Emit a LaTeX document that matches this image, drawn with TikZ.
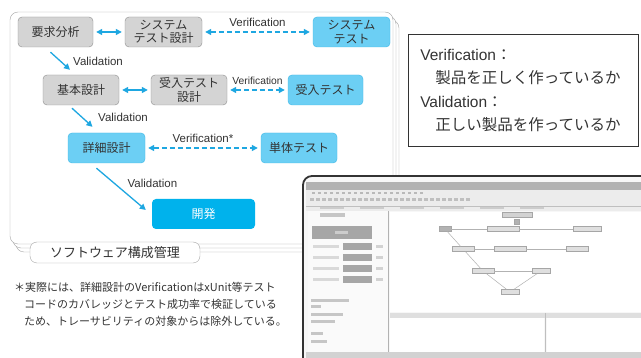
\documentclass[tikz,border=0pt]{standalone}
\usepackage{fontspec}
\setmainfont{Noto Sans CJK JP}
\newfontfamily\latinsf{Liberation Sans}
\usetikzlibrary{arrows.meta,calc}

\definecolor{boxgray}{HTML}{D4D4D4}
\definecolor{edgegray}{HTML}{8E8E8E}
\definecolor{lightblue}{HTML}{6CCFF4}
\definecolor{edgeblue}{HTML}{3DB8E6}
\definecolor{devblue}{HTML}{00B2EC}
\definecolor{arrowblue}{HTML}{1EA7E1}
\definecolor{inkgray}{HTML}{333333}

\begin{document}
\begin{tikzpicture}[x=1pt,y=-1pt,
  >={Triangle[length=6pt,width=6pt]},
  every node/.style={text=inkgray},
  proc/.style={draw=edgegray,fill=boxgray,rounded corners=4pt,minimum height=30pt,
    align=center,inner sep=1pt,font=\fontsize{12}{13.5}\selectfont},
  test/.style={proc,draw=edgeblue,fill=lightblue},
  link/.style={<->,arrowblue,line width=1.3pt,shorten >=3pt,shorten <=3pt},
  verif/.style={link,dash pattern=on 5pt off 3pt},
  valid/.style={->,arrowblue,line width=1.3pt},
  tag/.style={font=\latinsf\fontsize{11.5}{12}\selectfont},
  mini/.style={draw=gray!70,fill=gray!25,minimum height=5pt,inner sep=0pt},
  ]
\useasboundingbox (0,0) rectangle (641,358);

% Configuration management frame (stacked sheets)
\foreach \d in {6,3,0}
  \draw[gray!70,fill=white,rounded corners=8pt] (10+\d,12+4/3*\d) rectangle (393+\d,244+4/3*\d);
\node[draw=gray!70,fill=white,rounded corners=7pt,minimum width=170pt,minimum height=21pt,
  font=\fontsize{13}{13}\selectfont] (scm) at (115,252.5) {ソフトウェア構成管理};

% Process boxes
\node[proc,minimum width=75pt] (req) at (55.5,32) {要求分析};
\node[proc,minimum width=77pt] (sysdes) at (163.5,32) {システム\\テスト設計};
\node[test,minimum width=77pt] (systest) at (351.5,32) {システム\\テスト};
\node[proc,minimum width=76pt] (basic) at (81,90) {基本設計};
\node[proc,minimum width=76pt] (accdes) at (189,90) {受入テスト\\設計};
\node[test,minimum width=75pt] (acctest) at (325.5,90) {受入テスト};
\node[test,minimum width=77pt] (detail) at (106.5,148) {詳細設計};
\node[test,minimum width=76pt] (unit) at (299,148) {単体テスト};
\node[proc,draw=none,fill=devblue,text=white,minimum width=103pt] (dev) at (203.5,214) {開発};

% Design <-> test design
\draw[link] (req) -- (sysdes);
\draw[link] (basic) -- (accdes);

% Verification
\draw[verif] (sysdes) -- node[above=1pt,tag]{Verification} (systest);
\draw[verif] (accdes) -- node[above=1pt,tag,font=\latinsf\fontsize{10.3}{11}\selectfont]{Verification} (acctest);
\draw[verif] (detail) -- node[above=1pt,tag]{Verification*} (unit);

% Validation
\draw[valid] ($(req.south)+(-5,5)$) -- node[right=9pt,tag]{Validation} ($(basic.north)+(-11,-5)$);
\draw[valid] ($(basic.south)+(-9,3)$) -- node[right=12pt,tag]{Validation} ($(detail.north)+(-14,-6)$);
\draw[valid] ($(detail.south)+(-10,5)$) -- node[pos=0.55,anchor=south west,tag]{Validation} ($(dev.west)+(-6,-4)$);

% Footnote
\node[anchor=north west,align=left,inner sep=0pt,font=\fontsize{11}{17}\selectfont] (note) at (14,282)
  {＊実際には、詳細設計のVerificationはxUnit等テスト\\
   \hspace*{10pt}コードのカバレッジとテスト成功率で検証している\\
   \hspace*{10pt}ため、トレーサビリティの対象からは除外している。};

% Definitions
\node[draw=inkgray,line width=0.6pt,anchor=north west,minimum width=230pt,minimum height=112pt,
  text width=206pt,align=left,inner xsep=12pt,font=\fontsize{15.5}{23.5}\selectfont] (defs) at (408,34)
  {{\latinsf Verification}：\\
   \hspace*{15pt}製品を正しく作っているか\\
   {\latinsf Validation}：\\
   \hspace*{15pt}正しい製品を作っているか};

% Screen capture of the trace tool
\begin{scope}
\clip[rounded corners=9pt] (303,176) rectangle (660,375);
\fill[gray!6] (303,176) rectangle (660,375);
\fill[gray!60] (306,182) rectangle (660,190);
\fill[gray!15] (306,190) rectangle (660,211);
\foreach \x in {312,318,...,420} \fill[gray!55] (\x,192) rectangle ++(3,2.5);
\foreach \x in {310,316,...,470} \fill[gray!50] (\x,198) rectangle ++(4,3);
\draw[gray!50] (306,206) -- (660,206);
\foreach \x in {320,360,400,440,480,520} \fill[gray!40] (\x,207) rectangle ++(24,2);
% left panel
\fill[gray!4] (308,211) rectangle (388,352);
\draw[gray!60] (388,211) -- (388,352);
\fill[gray!45] (320,213) rectangle (345,217);
\fill[gray!70] (312,226) rectangle (372,239);
\fill[gray!40] (335,231) rectangle (348,234);
\foreach \y in {245,256,267,278} {
  \fill[gray!30] (313,\y) rectangle ++(26,3);
  \fill[gray!70] (343,\y-2) rectangle ++(29,7);
  \fill[gray!35] (376,\y) rectangle ++(7,3);
}
\foreach \y/\w in {299/38,305/10,313/32,320/24,332/12,340/16} \fill[gray!45] (311,\y) rectangle ++(\w,3);
% canvas and lower panes
\fill[white] (390,212) rectangle (660,312);
\fill[gray!25] (390,313) rectangle (660,318);
\fill[white] (390,318) rectangle (544,352);
\fill[white] (547,318) rectangle (660,352);
\draw[gray!50] (545,313) -- (545,352);
\fill[gray!35] (306,352) rectangle (660,375);
% trace graph
\node[mini,fill=gray!35,minimum width=30pt] (g0) at (517,215) {};
\node[mini,fill=gray!60,minimum width=5pt] (gi) at (517,222) {};
\node[mini,fill=gray!60,minimum width=12pt] (g1) at (445,229) {};
\node[mini,minimum width=32pt] (g2) at (503,229) {};
\node[mini,minimum width=28pt] (g3) at (587,229) {};
\node[mini,minimum width=22pt] (g4) at (463,249) {};
\node[mini,minimum width=32pt] (g5) at (510,249) {};
\node[mini,minimum width=22pt] (g6) at (577,249) {};
\node[mini,minimum width=22pt] (g7) at (483,271) {};
\node[mini,minimum width=18pt] (g8) at (541,271) {};
\node[mini,minimum width=18pt] (g9) at (510,292) {};
\foreach \a/\b in {g1/g2,g2/g3,g4/g5,g5/g6,g7/g8,g1/g4,g4/g7,g7/g9,g8/g9}
  \draw[gray!60,line width=0.5pt] (\a) -- (\b);
\end{scope}
\draw[inkgray,line width=1.8pt,rounded corners=9pt] (303,375) -- (303,176) -- (660,176);

\end{tikzpicture}
\end{document}
